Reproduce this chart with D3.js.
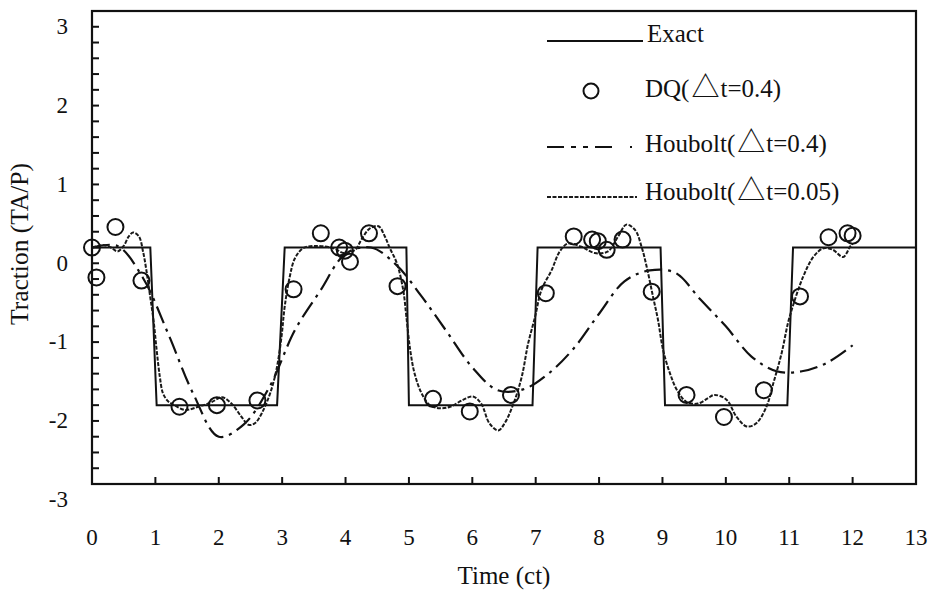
<!DOCTYPE html>
<html>
<head>
<meta charset="utf-8">
<script src="https://cdn.jsdelivr.net/npm/d3@7"></script>
<style>
  body { margin: 0; background: #fff; }
  svg text { font-family: "Liberation Serif", "Times New Roman", serif; fill: #111; }
</style>
</head>
<body>
<div id="chart"></div>
<script>
// exact solution (trapezoidal square wave)
const exactT = [0, 0.92, 1.02, 2.92, 3.04, 4.96, 5.0, 6.95, 7.03, 8.97, 9.04, 10.97, 11.06, 13];
const exactV = [0, 0, -2, -2, 0, 0, -2, -2, 0, 0, -2, -2, 0, 0];

// DQ, dt = 0.4 (circles)
const dqT = [0, 0.07, 0.37, 0.78, 1.38, 1.97, 2.61, 3.18, 3.61, 3.90, 3.99, 4.07, 4.37, 4.82, 5.38, 5.96,
             6.61, 7.16, 7.60, 7.89, 7.98, 8.12, 8.37, 8.83, 9.38, 9.97, 10.60, 11.17, 11.62, 11.92, 12.0];
const dqV = [0, -0.38, 0.26, -0.42, -2.02, -2.0, -1.94, -0.53, 0.18, 0.0, -0.04, -0.18, 0.18, -0.49, -1.92, -2.08,
             -1.87, -0.58, 0.14, 0.10, 0.08, -0.03, 0.10, -0.56, -1.87, -2.15, -1.81, -0.62, 0.13, 0.18, 0.15];

// Houbolt, dt = 0.4 (dash-dot)
const hb4T = [0, 0.4, 0.8, 1.2, 1.6, 2.0, 2.4, 2.8, 3.2, 3.6, 4.0, 4.4, 4.8, 5.2, 5.6, 6.0,
              6.4, 6.8, 7.2, 7.6, 8.0, 8.4, 8.8, 9.2, 9.6, 10.0, 10.4, 10.8, 11.2, 11.6, 12.0];
const hb4V = [0, 0.02, -0.38, -1.09, -1.86, -2.40, -2.24, -1.77, -1.05, -0.55, -0.08, 0.0, -0.22, -0.62, -1.07, -1.52,
              -1.81, -1.80, -1.60, -1.28, -0.84, -0.43, -0.29, -0.32, -0.66, -1.0, -1.38, -1.57, -1.57, -1.46, -1.24];

// Houbolt, dt = 0.05 (fine dotted, wiggly)
const hb05T = [0, 0.1, 0.2, 0.3, 0.4, 0.5, 0.58, 0.65, 0.74, 0.81, 0.86, 0.91, 0.97, 1.02, 1.07, 1.12, 1.2, 1.3,
               1.47, 1.68, 1.89, 2.05, 2.2, 2.36, 2.47, 2.57, 2.68, 2.81, 2.91, 2.99, 3.04, 3.12, 3.2, 3.33, 3.54,
               3.81, 3.97, 4.15, 4.25, 4.38, 4.52, 4.62, 4.7, 4.81, 4.91, 4.96, 5.02, 5.09, 5.2, 5.33, 5.49, 5.65,
               5.86, 6.01, 6.14, 6.27, 6.41, 6.51, 6.65, 6.78, 6.88, 6.99, 7.09, 7.25, 7.38, 7.51, 7.72, 7.93, 8.14,
               8.3, 8.43, 8.57, 8.67, 8.75, 8.85, 8.93, 9.01, 9.12, 9.23, 9.38, 9.56, 9.72, 9.82, 10.01, 10.17, 10.33,
               10.48, 10.64, 10.75, 10.88, 10.98, 11.07, 11.22, 11.38, 11.54, 11.69, 11.85, 11.96, 12.0];
const hb05V = [0, 0.02, 0.03, 0.0, -0.05, 0.02, 0.14, 0.19, 0.14, -0.07, -0.3, -0.58, -0.92, -1.3, -1.64, -1.85, -1.95, -2.0,
               -2.06, -2.02, -1.96, -1.90, -1.98, -2.15, -2.25, -2.23, -2.10, -1.85, -1.55, -1.13, -0.75, -0.37, -0.14, -0.01, 0.02,
               -0.01, -0.07, -0.03, 0.10, 0.24, 0.27, 0.14, -0.01, -0.2, -0.54, -0.88, -1.3, -1.6, -1.85, -2.0, -2.04, -2.02,
               -1.93, -1.89, -1.98, -2.23, -2.32, -2.23, -1.98, -1.64, -1.22, -0.88, -0.54, -0.29, -0.05, 0.05, 0.01, -0.07, -0.05,
               0.14, 0.29, 0.22, 0.01, -0.24, -0.62, -0.92, -1.3, -1.6, -1.81, -1.96, -1.98, -1.91, -1.87, -1.93, -2.15, -2.27,
               -2.23, -2.02, -1.72, -1.34, -0.96, -0.71, -0.37, -0.12, -0.01, -0.03, -0.12, 0.01, 0.05];

const xTicks = d3.range(0, 14);
const yTicks = [-3, -2, -1, 0, 1, 2, 3];

const width = 931, height = 593;
const box = { left: 92, right: 916, top: 11, bottom: 484 };

const svg = d3.select("#chart").append("svg")
  .attr("width", width).attr("height", height);

const x = d3.scaleLinear().domain([0, 13]).range([box.left, box.right]);
const y = d3.scaleLinear().domain([-3, 3]).range([box.bottom, box.top]);

// minor ticks on y (inward), every 0.2
const yMinor = d3.range(-2.8, 3.0, 0.2);
svg.append("g").selectAll("line")
  .data(yMinor)
  .join("line")
  .attr("x1", box.left).attr("x2", box.left + 7)
  .attr("y1", d => y(d)).attr("y2", d => y(d))
  .attr("stroke", "#111").attr("stroke-width", 2);

// x ticks (inward)
svg.append("g").selectAll("line")
  .data(xTicks.filter(d => d > 0 && d < 13))
  .join("line")
  .attr("x1", d => x(d)).attr("x2", d => x(d))
  .attr("y1", box.bottom).attr("y2", box.bottom - 7)
  .attr("stroke", "#111").attr("stroke-width", 2);

// tick labels (y labels sit one minor step below their tick, as in the scan)
svg.append("g").selectAll("text")
  .data(yTicks)
  .join("text")
  .attr("x", 68).attr("y", d => y(d) + 23)
  .attr("text-anchor", "end").attr("font-size", "23px")
  .text(d => d);

svg.append("g").selectAll("text")
  .data(xTicks)
  .join("text")
  .attr("x", d => x(d)).attr("y", 545)
  .attr("text-anchor", "middle").attr("font-size", "23px")
  .text(d => d);

// axis titles
svg.append("text")
  .attr("x", (box.left + box.right) / 2).attr("y", 584)
  .attr("text-anchor", "middle").attr("font-size", "25px")
  .text("Time (ct)");

svg.append("text")
  .attr("transform", "translate(28,244) rotate(-90)")
  .attr("text-anchor", "middle").attr("font-size", "25.5px")
  .text("Traction (TA/P)");

// series
const pts = (ts, vs) => ts.map((t, i) => [t, vs[i]]);

svg.append("path")
  .datum(pts(exactT, exactV))
  .attr("fill", "none").attr("stroke", "#111").attr("stroke-width", 2)
  .attr("d", d3.line().x(d => x(d[0])).y(d => y(d[1])));

svg.append("path")
  .datum(pts(hb4T, hb4V))
  .attr("fill", "none").attr("stroke", "#111").attr("stroke-width", 2.2)
  .attr("stroke-dasharray", "18,6,3,6")
  .attr("d", d3.line().curve(d3.curveCatmullRom).x(d => x(d[0])).y(d => y(d[1])));

svg.append("path")
  .datum(pts(hb05T, hb05V))
  .attr("fill", "none").attr("stroke", "#1a1a1a").attr("stroke-width", 2)
  .attr("stroke-dasharray", "4,1.5")
  .attr("d", d3.line().curve(d3.curveCatmullRom).x(d => x(d[0])).y(d => y(d[1])));

svg.append("g").selectAll("circle")
  .data(pts(dqT, dqV))
  .join("circle")
  .attr("cx", d => x(d[0])).attr("cy", d => y(d[1])).attr("r", 8)
  .attr("fill", "none").attr("stroke", "#111").attr("stroke-width", 2);

// plot frame
svg.append("rect")
  .attr("x", box.left).attr("y", box.top)
  .attr("width", box.right - box.left).attr("height", box.bottom - box.top)
  .attr("fill", "none").attr("stroke", "#111").attr("stroke-width", 2.2);

// legend
const legend = svg.append("g");
const lx0 = 547, lx1 = 640, tx = 645;

legend.append("line")
  .attr("x1", lx0).attr("x2", lx1 + 3).attr("y1", 41).attr("y2", 41)
  .attr("stroke", "#111").attr("stroke-width", 2);
legend.append("text").attr("x", tx + 2).attr("y", 42).attr("font-size", "25px").text("Exact");

legend.append("circle")
  .attr("cx", 591).attr("cy", 91).attr("r", 7.5)
  .attr("fill", "none").attr("stroke", "#111").attr("stroke-width", 2);

function deltaLabel(yPos, rest) {
  const t = legend.append("text").attr("x", tx).attr("y", yPos).attr("font-size", "25px");
  t.append("tspan").text(rest[0]);
  t.append("tspan").attr("font-family", "'Noto Sans CJK SC', 'DejaVu Sans'")
    .attr("font-size", "28px").attr("dx", 2).text("△");
  t.append("tspan").attr("dx", 1).text(rest[1]);
}
deltaLabel(97, ["DQ(", "t=0.4)"]);

legend.append("line")
  .attr("x1", lx0).attr("x2", lx1).attr("y1", 147).attr("y2", 147)
  .attr("stroke", "#111").attr("stroke-width", 2.2)
  .attr("stroke-dasharray", "17,7,5,7,5,7,17,18,2");
deltaLabel(152, ["Houbolt(", "t=0.4)"]);

legend.append("line")
  .attr("x1", lx0).attr("x2", lx1 - 3).attr("y1", 197).attr("y2", 197)
  .attr("stroke", "#1a1a1a").attr("stroke-width", 2)
  .attr("stroke-dasharray", "4,1.5");
deltaLabel(200, ["Houbolt(", "t=0.05)"]);
</script>
</body>
</html>
